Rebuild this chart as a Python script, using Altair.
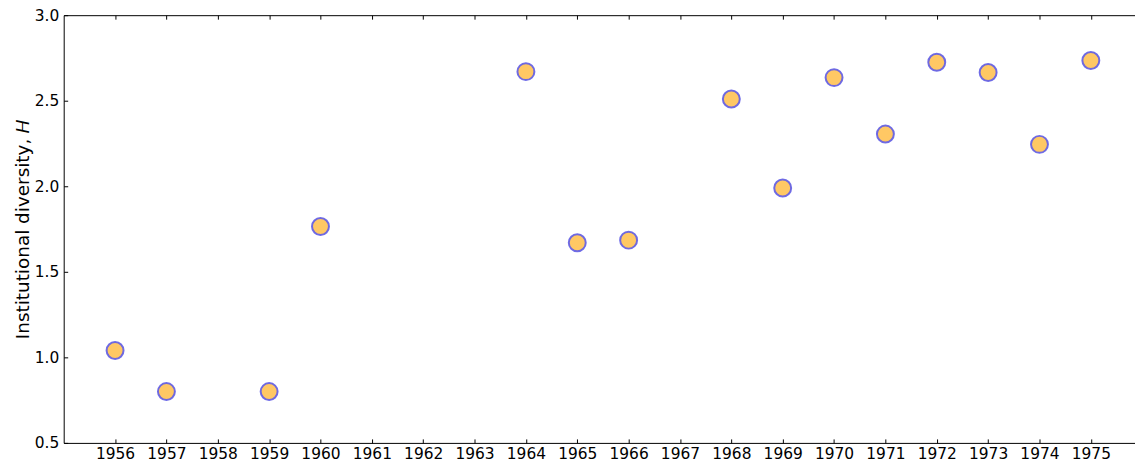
import altair as alt
import pandas as pd

years = [1956, 1957, 1959, 1960, 1964, 1965, 1966, 1968, 1969, 1970, 1971, 1972, 1973, 1974, 1975]
diversity = [1.04, 0.80, 0.80, 1.765, 2.67, 1.67, 1.685, 2.51, 1.99, 2.635, 2.305, 2.725, 2.665, 2.245, 2.735]
x_ticks = list(range(1956, 1976))
y_ticks = [0.5, 1.0, 1.5, 2.0, 2.5, 3.0]

df = pd.DataFrame({"year": years, "H": diversity})

W, H = 1077, 430
xscale = alt.Scale(domain=[1955, 1955 + W / 51.63], nice=False, zero=False)
yscale = alt.Scale(domain=[0.5, 3.0], nice=False, zero=False)
FONT = "DejaVu Sans"

base = alt.Chart(df)

points = base.mark_point(
    shape="circle", filled=True, size=290, fill="#FFC864", fillOpacity=1,
    stroke="#5F5CE6", strokeWidth=2, strokeOpacity=0.9,
).encode(
    x=alt.X("year:Q", scale=xscale, axis=alt.Axis(
        orient="bottom", values=x_ticks, format="d", title=None, ticks=False,
        labelPadding=4, labelFontSize=15.5, labelFont=FONT, labelColor="black",
        domainColor="black", domainWidth=1, grid=False, labelFlush=False)),
    y=alt.Y("H:Q", scale=yscale, axis=alt.Axis(
        orient="left", values=y_ticks, format=".1f", ticks=False,
        title="Institutional diversity, 𝐻", titleFont=FONT, titleFontSize=18.5,
        titleFontWeight="normal", titleColor="black", titlePadding=2,
        labelPadding=5, labelFontSize=15.5, labelFont=FONT, labelColor="black",
        domainColor="black", domainWidth=1, grid=False, labelFlush=False)),
)

ticks_bl = base.mark_point(opacity=0).encode(
    x=alt.X("year:Q", scale=xscale, axis=alt.Axis(
        orient="top", offset=-H, values=x_ticks, labels=False, domain=False,
        ticks=True, tickSize=4, tickColor="black", title=None, grid=False)),
    y=alt.Y("H:Q", scale=yscale, axis=alt.Axis(
        orient="right", offset=-W, values=y_ticks, labels=False, domain=False,
        ticks=True, tickSize=4, tickColor="black", title=None, grid=False)),
)

ticks_top = base.mark_point(opacity=0).encode(
    x=alt.X("year:Q", scale=xscale, axis=alt.Axis(
        orient="bottom", offset=-H, values=x_ticks, labels=False, domain=True,
        domainColor="black", ticks=True, tickSize=4, tickColor="black",
        title=None, grid=False)),
    y=alt.Y("H:Q", scale=yscale, axis=None),
)

chart = alt.layer(points, ticks_bl, ticks_top).resolve_axis(
    x="independent", y="independent"
).properties(
    width=W, height=H,
    autosize=alt.AutoSizeParams(type="none"),
    padding={"left": 56, "top": 6, "right": 0, "bottom": 20},
).configure(font=FONT).configure_view(stroke=None)

chart.save("out.html", embed_options={"renderer": "svg", "actions": False})
